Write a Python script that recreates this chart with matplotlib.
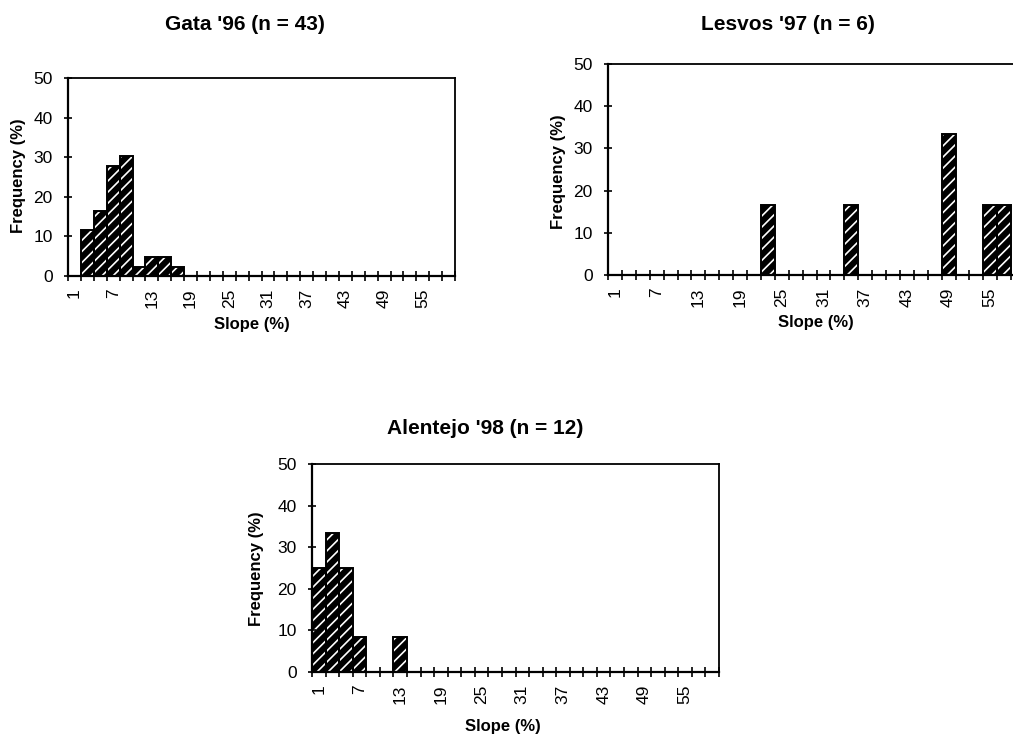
import matplotlib.pyplot as plt
from matplotlib.ticker import FixedLocator

# Slope classes (%), one bar per class
slope_classes = [1, 3, 5, 7, 9, 11, 13, 15, 17, 19, 21, 23, 25, 27, 29,
                 31, 33, 35, 37, 39, 41, 43, 45, 47, 49, 51, 53, 55, 57, 59]

# Frequency (%) per class
gata_96 = [0, 11.6, 16.3, 27.9, 30.2, 2.3, 4.7, 4.7, 2.3, 0, 0, 0, 0, 0, 0,
           0, 0, 0, 0, 0, 0, 0, 0, 0, 0, 0, 0, 0, 0, 0]
lesvos_97 = [0, 0, 0, 0, 0, 0, 0, 0, 0, 0, 0, 16.7, 0, 0, 0,
             0, 0, 16.7, 0, 0, 0, 0, 0, 0, 33.3, 0, 0, 16.7, 16.7, 0]
alentejo_98 = [25.0, 33.3, 25.0, 8.3, 0, 0, 8.3, 0, 0, 0, 0, 0, 0, 0, 0,
               0, 0, 0, 0, 0, 0, 0, 0, 0, 0, 0, 0, 0, 0, 0]

titles = ["Gata '96 (n = 43)", "Lesvos '97 (n = 6)", "Alentejo '98 (n = 12)"]
y_ticks = [0, 10, 20, 30, 40, 50]

plt.rcParams['font.family'] = ['Liberation Sans', 'DejaVu Sans']
plt.rcParams['hatch.linewidth'] = 1.2

W, H = 1013, 734
fig = plt.figure(figsize=(W / 100, H / 100), dpi=100)


def px_box(left, right, top, bottom):
    return [left / W, 1 - bottom / H, (right - left) / W, (bottom - top) / H]


def draw_panel(box, values, title, title_xy, xlabel_xy, ylabel_xy):
    ax = fig.add_axes(px_box(*box))
    pos = list(range(len(slope_classes)))
    # black fill with white diagonal stripes, then a black outline on top
    ax.bar(pos, values, width=1.0, color='black', edgecolor='white',
           linewidth=0, hatch='///')
    ax.bar(pos, values, width=1.0, fill=False, edgecolor='black', linewidth=1.4)
    ax.set_xlim(-0.5, len(slope_classes) - 0.5)
    ax.set_ylim(0, 50)
    ax.set_yticks(y_ticks)
    ax.set_xticks(pos[::3])
    ax.set_xticklabels([str(s) for s in slope_classes[::3]], rotation=90)
    ax.xaxis.set_minor_locator(FixedLocator([p - 0.5 for p in range(len(slope_classes) + 1)]))
    ax.tick_params(axis='x', which='major', length=0, pad=9, labelsize=12.5)
    ax.tick_params(axis='x', which='minor', direction='inout', length=7, width=1.2)
    ax.tick_params(axis='y', direction='inout', length=6, width=1.2, pad=8, labelsize=12.5)
    for side in ['left', 'bottom']:
        ax.spines[side].set_linewidth(1.6)
    for side in ['top', 'right']:
        ax.spines[side].set_linewidth(1.3)

    fig.text(title_xy[0] / W, 1 - title_xy[1] / H, title, ha='center', va='center',
             fontsize=15, fontweight='bold')
    fig.text(xlabel_xy[0] / W, 1 - xlabel_xy[1] / H, 'Slope (%)', ha='center',
             va='center', fontsize=12, fontweight='bold')
    fig.text(ylabel_xy[0] / W, 1 - ylabel_xy[1] / H, 'Frequency (%)', ha='center',
             va='center', rotation=90, fontsize=12, fontweight='bold')
    return ax


draw_panel((68, 455, 78, 276), gata_96, titles[0], (245, 24), (252, 325), (19, 176))
draw_panel((608, 1025, 64, 275), lesvos_97, titles[1], (788, 24), (816, 323), (558, 172))
draw_panel((312, 719, 464, 672), alentejo_98, titles[2], (485, 429), (503, 726), (257, 569))

fig.savefig('out.png', dpi=100)
plt.close(fig)
